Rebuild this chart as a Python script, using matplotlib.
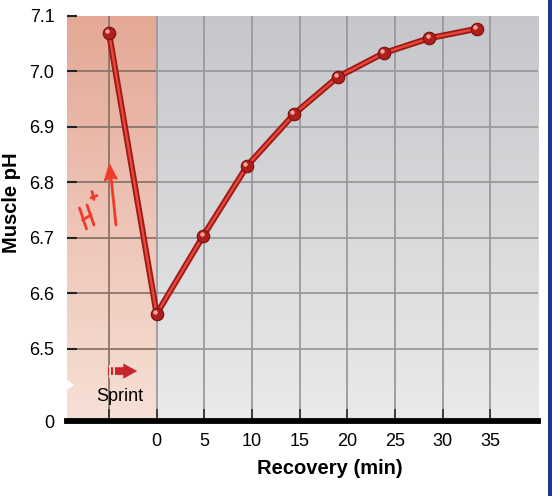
import numpy as np
import matplotlib.pyplot as plt
import matplotlib.transforms as mtransforms
from matplotlib.lines import Line2D
from matplotlib.patches import Polygon, Rectangle

plt.rcParams['font.family'] = ['Liberation Sans', 'DejaVu Sans']

# data
time_min = [-5, 0, 4.9, 9.5, 14.4, 19.0, 23.8, 28.6, 33.6]
muscle_ph = [7.07, 6.563, 6.704, 6.83, 6.923, 6.99, 7.033, 7.06, 7.077]
x_ticks = [0, 5, 10, 15, 20, 25, 30, 35]
y_ticks = [6.5, 6.6, 6.7, 6.8, 6.9, 7.0, 7.1]
y_floor = 6.37   # where the "0" of the broken axis sits

W, H = 552, 496
fig = plt.figure(figsize=(W / 100, H / 100), dpi=100)
ax = fig.add_axes([67 / W, 75 / H, 471 / W, 405 / H])
ax.set_xlim(-9.4, 40)
ax.set_ylim(y_floor, 7.1)

# background gradients
grad = np.linspace(0, 1, 256).reshape(-1, 1)
salmon = np.array([[0.894, 0.659, 0.588], [0.969, 0.878, 0.839]])
grey = np.array([[0.776, 0.780, 0.792], [0.918, 0.918, 0.925]])
img_l = salmon[0] * (1 - grad[..., None]) + salmon[1] * grad[..., None]
img_r = grey[0] * (1 - grad[..., None]) + grey[1] * grad[..., None]
ax.imshow(img_l, extent=(-9.4, 0, y_floor, 7.1), aspect='auto', zorder=0, origin='upper')
ax.imshow(img_r, extent=(0, 40, y_floor, 7.1), aspect='auto', zorder=0, origin='upper')

# grid
for xv in [-5] + x_ticks:
    c = '#8c7468' if xv < 0 else '#9a9a9c'
    ax.axvline(xv, color=c, lw=1.3, zorder=1)
for yv in y_ticks[:-1]:
    ax.plot([-9.4, 0], [yv, yv], color='#8c7468', lw=1.3, zorder=1)
    ax.plot([0, 40], [yv, yv], color='#9a9a9c', lw=1.3, zorder=1)

# line as a red tube
ax.plot(time_min, muscle_ph, color='#9e1a18', lw=4.4, zorder=3, solid_capstyle='round')
ax.plot(time_min, muscle_ph, color='#e8483a', lw=1.7, zorder=4, solid_capstyle='round')
ax.plot(time_min, muscle_ph, 'o', ms=9, color='#b01e1c', mec='#7a1010', mew=0.8, zorder=5)
hl = ax.transData + mtransforms.ScaledTranslation(-1.3 / 72, 1.5 / 72, fig.dpi_scale_trans)
ax.plot(time_min, muscle_ph, 'o', ms=3.2, color='#f4a8a0', mew=0, zorder=6, transform=hl)

# axes styling
for s in ['top', 'right', 'left']:
    ax.spines[s].set_visible(False)
ax.spines['bottom'].set_linewidth(4.2)
ax.spines['bottom'].set_color('black')
ax.spines['bottom'].set_zorder(7)
ax.set_xticks([-5] + x_ticks)
ax.set_xticklabels([''] + [str(v) for v in x_ticks])
ax.set_yticks([y_floor] + y_ticks)
ax.set_yticklabels(['0'] + [f'{v:.1f}' for v in y_ticks])
ax.tick_params(axis='x', direction='in', length=9, width=1.3, color='#333333',
               labelsize=13, pad=9)
ax.tick_params(axis='y', direction='in', length=7, width=1.5, color='#222222',
               labelsize=13, pad=9)
ax.yaxis.get_major_ticks()[0].tick1line.set_visible(False)

fig.text(12 / W, 1 - 203 / H, 'Muscle pH', rotation=90, ha='center', va='center',
         fontsize=14.5, fontweight='bold')
fig.text(330 / W, 1 - 469 / H, 'Recovery (min)', ha='center', va='center',
         fontsize=14.5, fontweight='bold')

# axis break notch
notch = [(60, 380), (67, 380), (74, 385), (67, 390), (60, 390)]
fig.patches.append(Polygon([(x / W, 1 - y / H) for x, y in notch], closed=True,
                           transform=fig.transFigure, facecolor='white',
                           edgecolor='none', zorder=10))

# Sprint label and arrow
ax.text(-3.85, 6.415, 'Sprint', ha='center', va='center', fontsize=13, zorder=6)
ax.annotate('', xy=(-1.75, 6.46), xytext=(-5.45, 6.46),
            arrowprops=dict(arrowstyle='simple,head_length=1.0,head_width=1.1,tail_width=0.55',
                            color='#c8242a', lw=0), zorder=6)
for xv in [-5.25, -4.85, -4.45]:
    ax.plot([xv, xv], [6.45, 6.47], color='#f1d3c8', lw=1.4, zorder=7)

# handwritten H+ note, drawn as pen strokes (pixel positions)
pen = '#f03a2a'
strokes = [
    [(79.5, 208), (86.5, 229)],   # H left
    [(87, 205), (94, 225)],       # H right
    [(82.5, 220), (91, 215)],     # H bar
    [(92, 191.5), (94, 199.5)],   # + vertical
    [(91, 198), (97, 195.5)],     # + horizontal
    [(116, 225), (110.5, 172)],   # arrow shaft
]
for st in strokes:
    xs = [p[0] / W for p in st]
    ys = [1 - p[1] / H for p in st]
    fig.add_artist(Line2D(xs, ys, transform=fig.transFigure, color=pen, lw=2.0,
                          solid_capstyle='round', zorder=8))
head = [(109.5, 164.5), (104.5, 181), (110.5, 177), (117, 179)]
fig.patches.append(Polygon([(x / W, 1 - y / H) for x, y in head], closed=True,
                           transform=fig.transFigure, facecolor=pen,
                           edgecolor=pen, lw=1, zorder=8))

# blue border on the right
fig.patches.append(Rectangle((548 / W, 0), 4 / W, 1, transform=fig.transFigure,
                             facecolor='#17389a', edgecolor='none'))

fig.savefig('out.png', dpi=100)
